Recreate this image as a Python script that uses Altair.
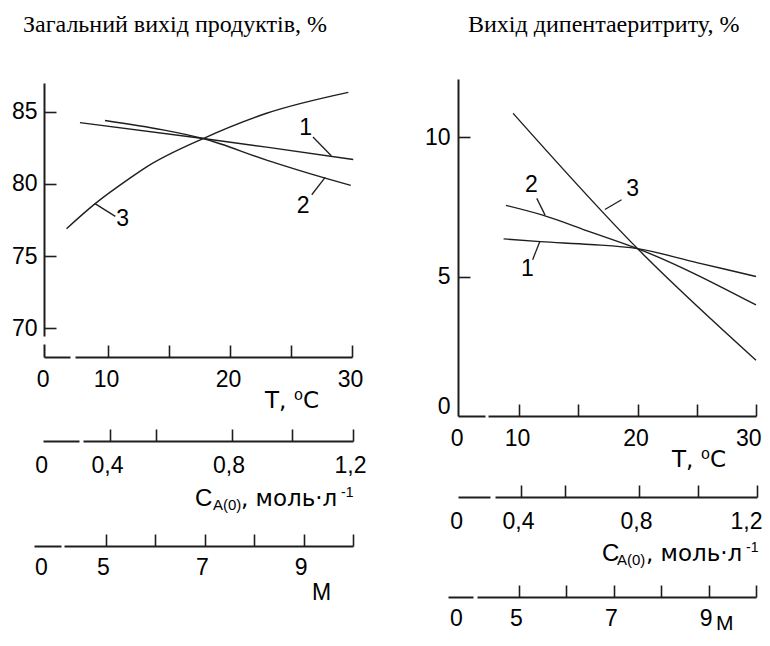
import altair as alt
import pandas as pd

W, H = 754, 630
INK = "#1e1e1e"
SANS = "Liberation Sans"
WIDE = "DejaVu Sans"
SERIF = "Liberation Serif"

# ---------------- data ----------------
SERIES = ["1", "2", "3"]

# left panel: total product yield, %  (x = T, degC)
L1_T = [7.7, 17.8, 23.0, 30.1]
L1_Y = [84.25, 83.15, 82.55, 81.7]
L2_T = [9.75, 14.5, 17.8, 23.0, 27.8, 29.9]
L2_Y = [84.4, 83.75, 83.15, 81.65, 80.4, 79.9]
L3_T = [6.6, 8.9, 11.8, 13.2, 17.8, 23.0, 29.7]
L3_Y = [76.9, 78.6, 80.4, 81.2, 83.15, 84.9, 86.35]

# right panel: dipentaerythritol yield, %
R1_T = [8.7, 11.8, 16.0, 20.0, 25.0, 30.0]
R1_Y = [6.35, 6.25, 6.15, 6.0, 5.5, 5.0]
R2_T = [8.9, 12.0, 16.0, 20.0, 30.0]
R2_Y = [7.55, 7.2, 6.6, 6.0, 3.98]
R3_T = [9.5, 20.0, 30.0]
R3_Y = [10.85, 6.0, 2.0]

# curve labels and their leader lines (data coordinates)
L_LAB_T = [26.2, 26.0, 11.2]
L_LAB_Y = [83.9, 78.5, 77.6]
L_LEAD_T1 = [26.8, 26.7, 10.6]
L_LEAD_T2 = [28.3, 27.8, 8.9]
L_LEAD_Y1 = [83.25, 79.25, 77.75]
L_LEAD_Y2 = [81.95, 80.45, 78.65]

R_LAB_T = [10.7, 11.05, 19.6]
R_LAB_Y = [5.27, 8.28, 8.15]
R_LEAD_T1 = [11.15, 11.5, 18.65]
R_LEAD_T2 = [11.75, 12.2, 17.25]
R_LEAD_Y1 = [5.6, 7.8, 7.75]
R_LEAD_Y2 = [6.25, 7.2, 7.4]

# axis ticks / labels
T_TICKS = [10, 15, 20, 25, 30]
T_LABELS_L = [4.8, 10, 20, 30]
T_LABELS_R = [4.9, 10, 20, 30]
C_TICKS = [0.4, 0.55, 0.8, 1.0, 1.2]
C_LABELS_L = [0.183, 0.4, 0.8, 1.2]
C_LABELS_R = [0.19, 0.4, 0.8, 1.2]
M_TICKS = [5, 6, 7, 8, 9, 10]
M_LABELS_L = [3.745, 5, 7, 9]
M_LABELS_R = [3.734, 5, 7, 9]
YL_TICKS = [70, 75, 80, 85]
YR_TICKS = [5, 10]
YR_LABELS = [0.35, 5, 10]

TITLE_L = "Загальний вихід продуктів, %"
TITLE_R = "Вихід дипентаеритриту, %"
T_TITLE = "T, ⁰C"
C_MAIN, C_SUB, C_UNIT, C_SUP = "C", "A(0)", ", моль·л", "-1"
M_TITLE = "M"

# ---------------- scales ----------------
def sc(dom, rng):
    return alt.Scale(domain=dom, range=rng, nice=False, zero=False)

TL = sc([4.754, 30], [36, 344])
YL = sc([68, 87], [349, 75])
CL = sc([0.1794, 1.2], [35, 345])
ML = sc([3.5425, 10], [26, 345])
TR = sc([4.852, 30], [450, 748])
YR = sc([0, 12.08], [408, 71])
CR = sc([0.1864, 1.2], [450, 749])
MR = sc([3.502, 10], [440, 748])


def xlab(ypos, values, expr, pad, dash, loff=0, last=None):
    extra = {}
    if last is not None:
        extra["labelAlign"] = {"condition": {"test": f"datum.value > {last}", "value": "right"},
                               "value": "center"}
        extra["labelOffset"] = {"condition": {"test": f"datum.value > {last}", "value": 5},
                                "value": loff}
    else:
        extra["labelOffset"] = loff
    return alt.Axis(orient="bottom", offset=ypos - H, values=values, labelExpr=expr,
                    ticks=False, tickSize=0, labelPadding=pad, domainDash=dash,
                    labelFlush=False, labelOverlap=False,
                    title=None, grid=False, **extra)


def xtick(ypos, values):
    return alt.Axis(orient="top", offset=-ypos, values=values, labels=False,
                    domain=False, tickSize=12, title=None, grid=False)


def ylab(xpos, values, expr, pad, dash):
    return alt.Axis(orient="left", offset=-xpos, values=values, labelExpr=expr,
                    ticks=False, tickSize=0, labelPadding=pad, domainDash=dash,
                    labelFlush=False, labelOverlap=False, title=None, grid=False)


def ytick(xpos, values):
    return alt.Axis(orient="right", offset=xpos - W, values=values, labels=False,
                    domain=False, tickSize=12, title=None, grid=False)


def carrier_x(vals, scale, axis):
    return alt.Chart(pd.DataFrame({"v": vals})).mark_point(opacity=0).encode(
        x=alt.X("v:Q", scale=scale, axis=axis))


def carrier_y(vals, scale, axis):
    return alt.Chart(pd.DataFrame({"v": vals})).mark_point(opacity=0).encode(
        y=alt.Y("v:Q", scale=scale, axis=axis))


def curves(ts, ys):
    rows = []
    for s, tt, yy in zip(SERIES, ts, ys):
        for a, b in zip(tt, yy):
            rows.append({"s": s, "T": a, "Y": b})
    return pd.DataFrame(rows)


def text_piece(txt, px, py, size, font=SANS, align="left"):
    return alt.Chart(pd.DataFrame({"t": [txt]})).mark_text(
        align=align, baseline="alphabetic", font=font, fontSize=size, color="black"
    ).encode(x=alt.value(px), y=alt.value(py), text="t:N")


T_EXPR = "datum.value < 6 ? '0' : datum.label"
C_EXPR = "datum.value < 0.3 ? '0' : replace(format(datum.value, '.1f'), '.', ',')"
M_EXPR = "datum.value < 4.5 ? '0' : datum.label"
YR_EXPR = "datum.value < 1 ? '0' : datum.label"


def panel(ts, ys, TS, YS, CS, MS, xT, yT, yC, yM, tlab, clab, mlab, ylabvals, yexpr,
          ylabpad, ytickvals, dashT, dashC, dashM, dashY,
          lab_t, lab_y, l_t1, l_t2, l_y1, l_y2, lastT=None, lastC=None):
    lines = alt.Chart(curves(ts, ys)).mark_line(
        interpolate="monotone", color=INK, strokeWidth=1.4
    ).encode(
        x=alt.X("T:Q", scale=TS, axis=xlab(yT, tlab, T_EXPR, 11, dashT, -2, lastT)),
        y=alt.Y("Y:Q", scale=YS, axis=ylab(xT, ylabvals, yexpr, ylabpad, dashY)),
        detail="s:N",
    )
    ticks_T = carrier_x(T_TICKS, TS, xtick(yT, T_TICKS))
    ticks_Y = carrier_y(ytickvals, YS, ytick(xT, ytickvals))
    labdf = pd.DataFrame({"s": SERIES, "T": lab_t, "Y": lab_y})
    labels = alt.Chart(labdf).mark_text(
        font=SANS, fontSize=23, color="black", align="center", baseline="middle"
    ).encode(
        x=alt.X("T:Q", scale=TS, axis=None),
        y=alt.Y("Y:Q", scale=YS, axis=None),
        text="s:N",
    )
    leaddf = pd.DataFrame({"t1": l_t1, "t2": l_t2, "y1": l_y1, "y2": l_y2})
    leaders = alt.Chart(leaddf).mark_rule(color=INK, strokeWidth=1.3).encode(
        x=alt.X("t1:Q", scale=TS, axis=None),
        x2="t2:Q",
        y=alt.Y("y1:Q", scale=YS, axis=None),
        y2="y2:Q",
    )
    c_lab = carrier_x(clab, CS, xlab(yC, clab, C_EXPR, 13, dashC, -3, lastC))
    c_tick = carrier_x(C_TICKS, CS, xtick(yC, C_TICKS))
    m_lab = carrier_x(mlab, MS, xlab(yM, mlab, M_EXPR, 10, dashM, -3))
    m_tick = carrier_x(M_TICKS, MS, xtick(yM, M_TICKS))
    return [lines, ticks_T, ticks_Y, labels, leaders, c_lab, c_tick, m_lab, m_tick]


left = panel([L1_T, L2_T, L3_T], [L1_Y, L2_Y, L3_Y], TL, YL, CL, ML,
             36, 349, 433, 538, T_LABELS_L, C_LABELS_L, M_LABELS_L,
             YL_TICKS, "datum.label", 7, YL_TICKS,
             [26, 5, 2000], [36, 4, 2000], [27, 3, 2000], [13, 8, 2000],
             L_LAB_T, L_LAB_Y, L_LEAD_T1, L_LEAD_T2, L_LEAD_Y1, L_LEAD_Y2)

right = panel([R1_T, R2_T, R3_T], [R1_Y, R2_Y, R3_Y], TR, YR, CR, MR,
              450, 408, 489, 589, T_LABELS_R, C_LABELS_R, M_LABELS_R,
              YR_LABELS, YR_EXPR, 8, YR_TICKS,
              [27, 3, 2000], [32, 5, 2000], [25, 4, 2000], [2000],
              R_LAB_T, R_LAB_Y, R_LEAD_T1, R_LEAD_T2, R_LEAD_Y1, R_LEAD_Y2,
              lastT=29, lastC=1.1)

texts = [
    text_piece(TITLE_L, 15, 24, 24, SERIF),
    text_piece(TITLE_R, 460, 24, 24, SERIF),
    text_piece(T_TITLE, 257, 400, 23, WIDE),
    text_piece(T_TITLE, 664, 459, 23, WIDE),
    text_piece(C_MAIN, 187, 498, 24),
    text_piece(C_SUB, 205, 502, 15),
    text_piece(C_UNIT, 233, 498, 23, WIDE),
    text_piece(C_SUP, 333, 489, 14),
    text_piece(C_MAIN, 594, 553, 24),
    text_piece(C_SUB, 609, 557, 15),
    text_piece(C_UNIT, 638, 553, 23, WIDE),
    text_piece(C_SUP, 738, 544, 14),
    text_piece(M_TITLE, 304, 592, 23),
    text_piece(M_TITLE, 708, 622, 21),
]

chart = alt.layer(*left, *right, *texts).resolve_scale(
    x="independent", y="independent"
).resolve_axis(
    x="independent", y="independent"
).properties(
    width=W, height=H, autosize="none", padding=0
).configure_axis(
    labelFont=SANS, labelFontSize=23, labelColor="black",
    domainColor=INK, domainWidth=2, tickColor=INK, tickWidth=1.6,
).configure_view(stroke=None)

chart.save("out.html", embed_options={"renderer": "svg", "actions": False})
